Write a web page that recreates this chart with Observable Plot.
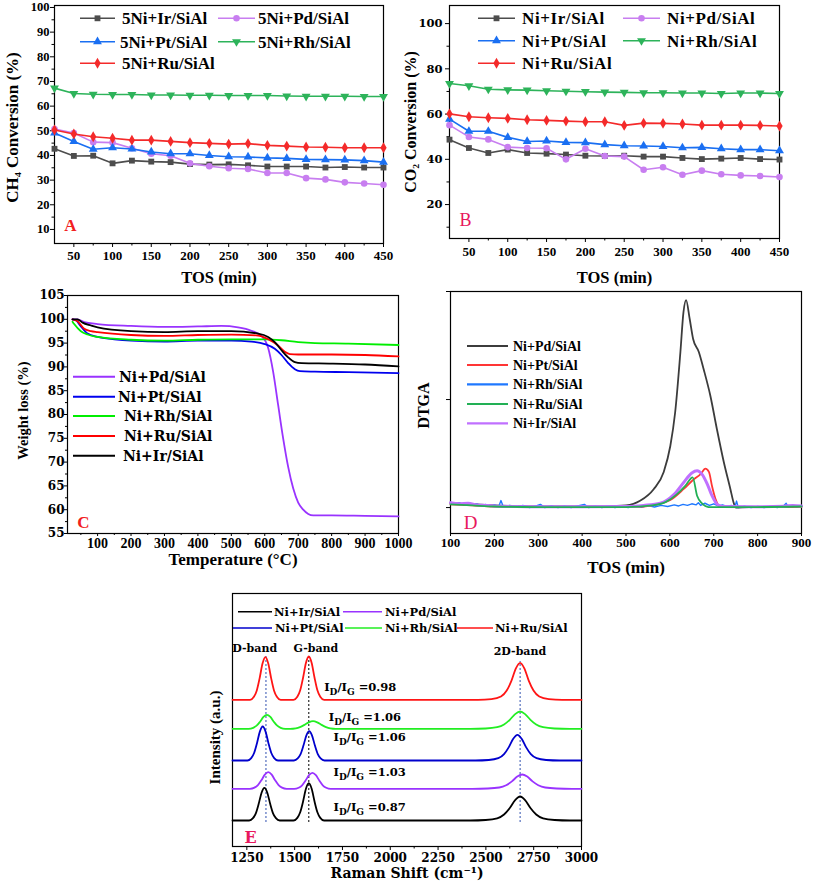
<!DOCTYPE html>
<html>
<head>
<meta charset="utf-8">
<script src="https://cdn.jsdelivr.net/npm/d3@7"></script>
<script src="https://cdn.jsdelivr.net/npm/@observablehq/plot@0.6"></script>
<style>
html,body{margin:0;padding:0;background:#fff;}
#root{position:relative;width:813px;height:883px;overflow:hidden;background:#fff;}
.panel{position:absolute;}
.panel svg{overflow:visible;}
</style>
</head>
<body>
<div id="root"></div>
<script>
// ================= DATA =================
// Panels A & B: time on stream (min)
const TOS = [25,50,75,100,125,150,175,200,225,250,275,300,325,350,375,400,425,450];
// A: CH4 conversion (%)
const ch4Ir = [42.7,39.8,39.9,36.8,37.9,37.5,37.3,36.5,36.3,36.4,36.0,35.5,35.5,35.5,35.1,35.3,35.1,35.1];
const ch4Pd = [50.7,49.1,45.4,45.2,42.9,40.7,39.9,36.8,35.6,34.8,34.5,32.9,32.9,30.8,30.3,29.1,28.6,28.1];
const ch4Pt = [49.1,45.7,42.5,43.1,42.6,41.4,40.7,40.7,40.0,39.5,39.4,39.0,38.8,38.4,38.3,38.2,37.9,37.3];
const ch4Rh = [67.3,65.1,64.8,64.7,64.7,64.5,64.5,64.4,64.4,64.3,64.3,64.3,64.1,64.0,64.0,64.0,63.9,63.9];
const ch4Ru = [50.3,48.7,47.6,47.0,46.2,46.2,45.7,45.2,44.9,44.6,44.8,44.1,43.8,43.4,43.3,43.1,43.1,43.1];
// B: CO2 conversion (%)
const co2Ir = [48.7,45.0,42.8,44.3,42.8,42.5,42.1,41.6,41.5,41.6,41.2,41.2,40.6,40.1,40.3,40.6,40.1,39.9];
const co2Pd = [55.1,49.9,48.8,45.4,45.0,44.9,40.0,44.7,41.5,41.2,35.4,36.5,33.2,35.0,33.4,32.9,32.6,32.2];
const co2Pt = [57.8,52.4,52.4,49.7,47.9,48.1,47.5,47.4,46.5,46.0,45.9,45.7,45.1,45.3,44.7,44.3,44.3,43.8];
const co2Rh = [73.5,72.5,71.0,70.7,70.6,70.3,70.1,69.9,69.7,69.6,69.4,69.4,69.3,69.3,69.1,69.3,69.3,69.1];
const co2Ru = [60.1,58.8,58.4,58.1,57.5,57.2,56.9,56.6,56.6,55.0,56.0,55.9,55.6,55.1,55.1,55.1,55.0,54.7];
const labelsA = ["5Ni+Ir/SiAl","5Ni+Pd/SiAl","5Ni+Pt/SiAl","5Ni+Rh/SiAl","5Ni+Ru/SiAl"];
const labelsB = ["Ni+Ir/SiAl","Ni+Pd/SiAl","Ni+Pt/SiAl","Ni+Rh/SiAl","Ni+Ru/SiAl"];

// C: TGA weight (%) vs temperature (°C)
const tgaPd = [[25,100],[40,100],[60,99.4],[100,99.0],[200,98.6],[300,98.4],[400,98.5],[470,98.6],[520,98.3],[560,97.6],[590,96.5],[610,94.0],[625,89.0],[640,82.0],[655,75.0],[670,69.0],[685,64.5],[700,61.5],[715,60.0],[730,59.1],[745,58.8],[800,58.8],[900,58.7],[1000,58.6]];
const tgaPt = [[25,100],[35,99.8],[50,98.5],[70,97.0],[100,96.3],[150,95.8],[200,95.5],[300,95.3],[400,95.5],[500,95.5],[560,95.3],[600,94.8],[630,93.8],[650,92.5],[670,90.8],[690,89.5],[705,89.1],[750,89.0],[850,88.9],[1000,88.7]];
const tgaRh = [[25,99.5],[30,99.0],[50,97.5],[70,96.8],[100,96.3],[200,95.7],[300,95.5],[400,95.7],[500,95.8],[600,95.8],[650,95.6],[700,95.2],[750,95.0],[850,94.9],[1000,94.6]];
const tgaRu = [[25,100],[40,99.6],[60,98.0],[80,97.5],[100,97.3],[200,96.7],[300,96.5],[400,96.7],[500,96.8],[580,96.6],[610,95.8],[640,94.5],[660,93.2],[675,92.7],[700,92.6],[800,92.6],[900,92.5],[1000,92.2]];
const tgaIr = [[25,100],[40,100],[55,99.3],[80,98.7],[100,98.3],[200,97.5],[300,97.3],[400,97.5],[500,97.5],[580,97.0],[610,96.3],[630,95.2],[650,93.5],[670,92.0],[690,91.0],[710,90.8],[800,90.7],[900,90.5],[1000,90.1]];
const labelsCD = ["Ni+Pd/SiAl","Ni+Pt/SiAl","Ni+Rh/SiAl","Ni+Ru/SiAl","Ni+Ir/SiAl"];

// D: DTGA (arbitrary units)
const dtgPd = [[100,0.04],[130,0.035],[160,0.03],[200,0.02],[250,0.015],[300,0.01],[350,0.01],[400,0.01],[450,0.012],[500,0.02],[533,0.065],[563,0.17],[586,0.33],[601,0.57],[612,0.88],[624,1.44],[631,1.81],[637,1.92],[645,1.75],[653,1.56],[666,1.44],[677,1.28],[692,1.04],[707,0.73],[723,0.42],[738,0.17],[745,0.05],[750,0.0],[780,0.005],[820,0.005],[860,0.01],[900,0.012]];
const dtgPt = [[100,0.03],[150,0.02],[200,0.01],[300,0.006],[400,0.005],[500,0.006],[540,0.01],[570,0.03],[601,0.07],[631,0.17],[654,0.26],[670,0.31],[681,0.36],[689,0.33],[696,0.2],[704,0.08],[711,0.02],[730,0.005],[800,0.005],[900,0.006]];
const dtgRh = [[100,0.05],[110,0.03],[120,0.045],[130,0.025],[140,0.04],[150,0.02],[160,0.035],[170,0.015],[180,0.03],[190,0.01],[200,0.025],[210,0.01],[215,0.065],[220,0.01],[235,0.02],[250,0.005],[265,0.02],[280,0.0],[295,0.015],[305,0.03],[315,0.0],[330,0.015],[345,0.0],[360,0.012],[375,0.0],[390,0.015],[405,0.03],[415,0.0],[430,0.012],[445,0.0],[460,0.015],[475,0.0],[490,0.012],[505,0.0],[520,0.015],[535,0.002],[550,0.018],[565,0.005],[580,0.02],[595,0.01],[610,0.025],[620,0.015],[630,0.03],[640,0.02],[650,0.035],[660,0.025],[665,0.045],[670,0.02],[680,0.04],[690,0.02],[700,0.035],[710,0.015],[720,0.025],[730,0.01],[740,0.02],[748,0.005],[752,0.06],[756,0.0],[770,0.012],[785,0.0],[800,0.01],[815,0.0],[830,0.012],[845,0.0],[860,0.02],[865,0.04],[870,0.005],[880,0.02],[890,0.005],[900,0.02]];
const dtgRu = [[100,0.03],[150,0.02],[200,0.01],[300,0.005],[500,0.005],[560,0.02],[590,0.05],[615,0.12],[635,0.2],[652,0.28],[662,0.11],[673,0.04],[688,0.005],[800,0.005],[900,0.01]];
const dtgIr = [[100,0.045],[120,0.035],[140,0.04],[160,0.025],[180,0.02],[200,0.015],[250,0.01],[300,0.008],[400,0.008],[500,0.01],[540,0.02],[578,0.04],[609,0.12],[631,0.23],[650,0.32],[662,0.34],[673,0.31],[685,0.22],[696,0.11],[708,0.03],[720,0.01],[800,0.008],[860,0.012],[880,0.02],[900,0.015]];

// E: Raman spectra, intensity above each trace's own baseline (a.u.)
const ramIr = [[1175,0],[1262,0],[1282,0.23],[1297,0.72],[1312,1.67],[1327,2.78],[1342,3.27],[1357,2.78],[1372,1.67],[1387,0.72],[1402,0.23],[1422,0],[1494,0],[1514,0.26],[1529,0.82],[1544,1.90],[1559,3.17],[1574,3.73],[1589,3.17],[1604,1.90],[1619,0.82],[1634,0.26],[1654,0],[2419,0],[2499,0.05],[2559,0.22],[2595,0.6],[2625,1.25],[2653,2.04],[2679,2.4],[2705,2.04],[2733,1.25],[2763,0.6],[2799,0.22],[2859,0.05],[2939,0],[3000,0]];
const ramPd = [[1175,0],[1266,0],[1290,0.12],[1308,0.37],[1326,0.85],[1344,1.41],[1362,1.66],[1380,1.41],[1398,0.85],[1416,0.37],[1434,0.12],[1458,0],[1497,0],[1521,0.11],[1539,0.35],[1557,0.82],[1575,1.36],[1593,1.6],[1611,1.36],[1629,0.82],[1647,0.35],[1665,0.11],[1689,0],[2430,0],[2510,0.03],[2570,0.13],[2606,0.36],[2636,0.74],[2664,1.22],[2690,1.43],[2716,1.22],[2744,0.74],[2774,0.36],[2810,0.13],[2870,0.03],[2950,0],[3000,0]];
const ramPt = [[1175,0],[1253,0],[1273,0.24],[1288,0.75],[1303,1.73],[1318,2.89],[1333,3.4],[1348,2.89],[1363,1.73],[1378,0.75],[1393,0.24],[1413,0],[1496,0],[1516,0.21],[1531,0.64],[1546,1.49],[1561,2.49],[1576,2.93],[1591,2.49],[1606,1.49],[1621,0.64],[1636,0.21],[1656,0],[2445,0],[2515,0.05],[2565,0.23],[2595,0.64],[2620,1.34],[2643,2.18],[2665,2.57],[2687,2.18],[2710,1.34],[2735,0.64],[2765,0.23],[2815,0.05],[2885,0],[3000,0]];
const ramRh = [[1175,0],[1259,0],[1283,0.10],[1301,0.31],[1319,0.71],[1337,1.19],[1355,1.4],[1373,1.19],[1391,0.71],[1409,0.31],[1427,0.10],[1451,0],[1476,0],[1506,0.05],[1528,0.17],[1551,0.39],[1574,0.65],[1596,0.76],[1618,0.65],[1641,0.39],[1664,0.17],[1686,0.05],[1716,0],[2419,0],[2499,0.03],[2559,0.16],[2595,0.43],[2625,0.90],[2653,1.47],[2679,1.73],[2705,1.47],[2733,0.90],[2763,0.43],[2799,0.16],[2859,0.03],[2939,0],[3000,0]];
const ramRu = [[1175,0],[1267,0],[1287,0.30],[1302,0.94],[1317,2.17],[1332,3.62],[1347,4.26],[1362,3.62],[1377,2.17],[1392,0.94],[1407,0.30],[1427,0],[1494,0],[1514,0.30],[1529,0.95],[1544,2.21],[1559,3.68],[1574,4.33],[1589,3.68],[1604,2.21],[1619,0.95],[1634,0.30],[1654,0],[2459,0],[2529,0.07],[2579,0.33],[2609,0.93],[2634,1.92],[2657,3.15],[2679,3.7],[2701,3.15],[2724,1.92],[2749,0.93],[2779,0.33],[2829,0.07],[2899,0],[3000,0]];
const ramOffsets = [0, 3.17, 6.0, 9.17, 12.07]; // Ir, Pd, Pt, Rh, Ru stacking
const labelsE = ["Ni+Ir/SiAl","Ni+Pd/SiAl","Ni+Pt/SiAl","Ni+Rh/SiAl","Ni+Ru/SiAl"];
const bandNames = ["D-band","G-band","2D-band"];
const bandPos = [1350, 1574, 2679];
const bandLabelX = [1291, 1611, 2678];
const idigValues = ["0.98","1.06","1.06","1.03","0.87"]; // Ru, Rh, Pt, Pd, Ir
const idigX = [1657, 1681, 1706, 1706, 1706];
const idigY = [13.33, 10.33, 8.33, 4.83, 1.33];

// ================= STYLE =================
const FT = "'Liberation Serif','Times New Roman',serif";
const FD = "'DejaVu Serif',serif";
const colAB = ["#4d4d4d","#c87ef0","#1a6ff2","#2db35a","#f42a2a"];
const colC  = ["#9933ff","#0000ee","#00ee00","#ff0000","#000000"];
const colD  = ["#3c3c3c","#ff3535","#1f78ff","#22b055","#c070ff"];
const colE  = ["#000000","#9933ff","#0000cc","#22ee22","#ff1515"];
const triDown = {draw(ctx, size){const s3=Math.sqrt(3);const y=-Math.sqrt(size/(s3*3));ctx.moveTo(0,-y*2);ctx.lineTo(-s3*y,y);ctx.lineTo(s3*y,y);ctx.closePath();}};
const symAB = [d3.symbolSquare, d3.symbolCircle, d3.symbolTriangle, triDown, d3.symbolDiamond];
const intFmt = d => String(d);

const root = document.getElementById("root");
function place(svg, left, top, w){
  const div = document.createElement("div");
  div.className = "panel"; div.style.left = left+"px"; div.style.top = top+"px"; div.style.width = w+"px";
  div.appendChild(svg); root.appendChild(div);
}
function label(txt, anchor, dx, dy, o={}){
  return Plot.text([txt], Object.assign({text: d=>d, frameAnchor: anchor, dx, dy, textAnchor:"middle", lineAnchor:"middle", fontWeight:"bold", fontFamily: FT, fill:"#000"}, o));
}
function legend(svg, items, o){
  const g = d3.select(svg).append("g").attr("font-family", o.font).attr("font-weight","bold").attr("font-size", o.size).attr("text-anchor","start");
  items.forEach(it=>{
    g.append("line").attr("x1",it.x1).attr("x2",it.x2).attr("y1",it.y).attr("y2",it.y).attr("stroke",it.color).attr("stroke-width",o.sw);
    if (it.sym) g.append("path").attr("d", d3.symbol(it.sym, o.symSize)()).attr("transform",`translate(${(it.x1+it.x2)/2},${it.y})`).attr("fill",it.color);
    g.append("text").attr("x",it.tx).attr("y",it.y).attr("dy","0.35em").attr("fill","#000").attr("text-anchor","start").attr("letter-spacing",o.ls||0).text(it.label);
  });
}
const rowsT = vals => TOS.map((t,i)=>({t, v: vals[i]}));
const rowsP = pairs => pairs.map(([x,v])=>({x, v}));

// ================= PANEL A =================
{
  const vals = [ch4Ir,ch4Pd,ch4Pt,ch4Rh,ch4Ru];
  const svg = Plot.plot({
    width: 395, height: 290, marginLeft: 54, marginRight: 12, marginTop: 5, marginBottom: 47,
    style: {fontFamily: FT, fontSize: "13px", fontWeight: "bold", background: "none", color: "#000"},
    x: {domain: [25, 450]}, y: {domain: [4.3, 100.8]},
    marks: [
      Plot.axisX({ticks: d3.range(50, 451, 50), tickSize: 4, tickPadding: 3, label: null}),
      Plot.axisX({ticks: d3.range(75, 451, 50), tickSize: 2.5, tickFormat: () => "", label: null}),
      Plot.axisY({ticks: d3.range(10, 101, 10), tickSize: 4, tickPadding: 1, label: null, fontSize: 12.5}),
      Plot.axisY({ticks: d3.range(15, 100, 10), tickSize: 2.5, tickFormat: () => "", label: null}),
      Plot.frame({stroke: "#000", strokeWidth: 1.2}),
      ...vals.flatMap((v,i)=>[
        Plot.line(rowsT(v), {x:"t", y:"v", stroke: colAB[i], strokeWidth: 1.6}),
        Plot.dot(rowsT(v), {x:"t", y:"v", fill: colAB[i], symbol: symAB[i], r: 3.3})
      ]),
      label("TOS (min)", "bottom", 0, 34, {fontSize: 16.5}),
      label("CH₄ Conversion (%)", "left", -42, 3, {rotate: -90, fontSize: 17}),
      label("A", "bottom-left", 16, -18, {fill: "#f22020", fontSize: 17})
    ]
  });
  legend(svg, [
    {x1:80,x2:115,y:18.3,tx:122,label:labelsA[0],color:colAB[0],sym:symAB[0]},
    {x1:218,x2:255,y:18.3,tx:258,label:labelsA[1],color:colAB[1],sym:symAB[1]},
    {x1:80,x2:115,y:41.7,tx:120,label:labelsA[2],color:colAB[2],sym:symAB[2]},
    {x1:218,x2:255,y:41.7,tx:258,label:labelsA[3],color:colAB[3],sym:symAB[3]},
    {x1:80,x2:115,y:63.3,tx:122,label:labelsA[4],color:colAB[4],sym:symAB[4]}
  ], {font: FT, size: 17, sw: 1.6, symSize: 34});
  place(svg, 0, 0, 395);
}

// ================= PANEL B =================
{
  const vals = [co2Ir,co2Pd,co2Pt,co2Rh,co2Ru];
  const svg = Plot.plot({
    width: 400, height: 290, marginLeft: 54, marginRight: 16, marginTop: 5, marginBottom: 52,
    style: {fontFamily: FT, fontSize: "13px", fontWeight: "bold", background: "none", color: "#000"},
    x: {domain: [25, 450]}, y: {domain: [5, 108]},
    marks: [
      Plot.axisX({ticks: d3.range(50, 451, 50), tickSize: 4, tickPadding: 4.5, label: null}),
      Plot.axisX({ticks: d3.range(75, 451, 50), tickSize: 2.5, tickFormat: () => "", label: null}),
      Plot.axisY({ticks: d3.range(20, 101, 20), tickSize: 4, tickPadding: 3, label: null, fontFamily: FD, fontSize: 11.5}),
      Plot.axisY({ticks: d3.range(10, 101, 20), tickSize: 2.5, tickFormat: () => "", label: null}),
      Plot.frame({stroke: "#000", strokeWidth: 1.2}),
      ...vals.flatMap((v,i)=>[
        Plot.line(rowsT(v), {x:"t", y:"v", stroke: colAB[i], strokeWidth: 1.6}),
        Plot.dot(rowsT(v), {x:"t", y:"v", fill: colAB[i], symbol: symAB[i], r: 3.3})
      ]),
      label("TOS (min)", "bottom", 0, 39, {fontSize: 16.5}),
      label("CO₂ Conversion (%)", "left", -39, 0, {rotate: -90, fontSize: 16}),
      label("B", "bottom-left", 16, -18, {fill: "#e8175d", fontSize: 18, fontWeight: "normal"})
    ]
  });
  legend(svg, [
    {x1:83,x2:120,y:18.3,tx:127,label:labelsB[0],color:colAB[0],sym:symAB[0]},
    {x1:228,x2:265,y:18.3,tx:272,label:labelsB[1],color:colAB[1],sym:symAB[1]},
    {x1:83,x2:120,y:40.7,tx:127,label:labelsB[2],color:colAB[2],sym:symAB[2]},
    {x1:228,x2:265,y:40.7,tx:272,label:labelsB[3],color:colAB[3],sym:symAB[3]},
    {x1:83,x2:120,y:63.3,tx:127,label:labelsB[4],color:colAB[4],sym:symAB[4]}
  ], {font: FT, size: 17, sw: 1.6, symSize: 34, ls: 0.6});
  place(svg, 395, 0, 400);
}

// ================= PANEL C =================
{
  const vals = [tgaPd,tgaPt,tgaRh,tgaRu,tgaIr];
  const svg = Plot.plot({
    width: 410, height: 300, marginLeft: 67, marginRight: 12, marginTop: 10, marginBottom: 52,
    style: {fontFamily: FT, fontSize: "14px", fontWeight: "bold", background: "none", color: "#000"},
    x: {domain: [10, 1000]}, y: {domain: [55, 105]},
    marks: [
      Plot.axisX({ticks: d3.range(100, 1001, 100), tickSize: 3, tickPadding: 2, tickFormat: intFmt, label: null}),
      Plot.axisX({ticks: d3.range(50, 1000, 100), tickSize: 2, tickFormat: () => "", label: null}),
      Plot.axisY({ticks: d3.range(55, 106, 5), tickSize: 3, tickPadding: 0, label: null, fontFamily: FD, fontSize: 12}),
      Plot.axisY({ticks: d3.range(57.5, 105, 5), tickSize: 2, tickFormat: () => "", label: null}),
      Plot.frame({stroke: "#000", strokeWidth: 1.2}),
      ...vals.map((v,i)=> Plot.line(rowsP(v), {x:"x", y:"v", stroke: colC[i], strokeWidth: 1.8, curve: "monotone-x"})),
      label("Temperature (°C)", "bottom", 0, 26, {fontSize: 17}),
      label("Weight loss (%)", "left", -44, -4, {rotate: -90, fontSize: 14.5}),
      label("C", "bottom-left", 16, -11, {fill: "#f22020", fontSize: 17})
    ]
  });
  const ys = [91.7,111.7,131,151,170.7], tx = [119,118,124,124,123];
  legend(svg, labelsCD.map((l,i)=>({x1:73,x2:115,y:ys[i],tx:tx[i],label:l,color:colC[i]})), {font: FD, size: 14, sw: 2});
  place(svg, 0, 285, 410);
}

// ================= PANEL D =================
{
  const vals = [dtgPd,dtgPt,dtgRh,dtgRu,dtgIr];
  const order = [0,2,1,4,3];
  const svg = Plot.plot({
    width: 408, height: 300, marginLeft: 45, marginRight: 12, marginTop: 6, marginBottom: 52,
    style: {fontFamily: FT, fontSize: "13px", fontWeight: "bold", background: "none", color: "#000"},
    x: {domain: [100, 900]}, y: {domain: [-0.24, 2]},
    marks: [
      Plot.axisX({ticks: d3.range(100, 901, 100), tickSize: 3, tickPadding: 1.5, label: null}),
      Plot.axisY({ticks: [0, 1, 2], tickSize: 4, tickFormat: () => "", label: null}),
      Plot.frame({stroke: "#000", strokeWidth: 1.2}),
      ...order.map(i=> Plot.line(rowsP(vals[i]), {x:"x", y:"v", stroke: colD[i], strokeWidth: i===4 ? 3 : (i===2 ? 1.4 : 1.8), curve: i===2 ? "linear" : "monotone-x"})),
      label("TOS (min)", "bottom", 0, 34, {fontSize: 17}),
      label("DTGA", "left", -27, -7, {rotate: -90, fontSize: 16}),
      label("D", "bottom-left", 20, -11, {fill: "#e8175d", fontSize: 19, fontWeight: "normal"})
    ]
  });
  const ys = [61,80,99.3,119,138.3];
  legend(svg, labelsCD.map((l,i)=>({x1:62,x2:103,y:ys[i],tx:108,label:l,color:colD[i]})), {font: FT, size: 14, sw: 2.2});
  place(svg, 405, 285, 408);
}

// ================= PANEL E =================
{
  const vals = [ramIr,ramPd,ramPt,ramRh,ramRu];
  const bandTop = [16.5, 16.5, 15.9];
  const svg = Plot.plot({
    width: 410, height: 303, marginLeft: 42, marginRight: 19, marginTop: 13, marginBottom: 37,
    style: {fontFamily: FD, fontSize: "12px", fontWeight: "bold", background: "none", color: "#000"},
    x: {domain: [1175, 3000]}, y: {domain: [-2.6, 22.7], axis: null},
    marks: [
      Plot.axisX({ticks: d3.range(1250, 3001, 250), tickSize: 4, tickPadding: 3, tickFormat: intFmt, label: null}),
      Plot.axisX({ticks: d3.range(1375, 3000, 250), tickSize: 2.5, tickFormat: () => "", label: null}),
      Plot.frame({stroke: "#000", strokeWidth: 1.2}),
      Plot.ruleX(bandPos.map((x,i)=>({x, y1: -0.2, y2: bandTop[i]})), {x:"x", y1:"y1", y2:"y2", stroke: (d,i)=> i===1 ? "#000" : "#3050b0", strokeDasharray: "2,2", strokeWidth: 1}),
      ...vals.map((v,i)=> Plot.line(v.map(([x,y])=>({x, y: y + ramOffsets[i]})), {x:"x", y:"y", stroke: colE[i], strokeWidth: 1.8, curve: "monotone-x"})),
      Plot.text(bandNames.map((n,i)=>({n, x: bandLabelX[i], y: i===2 ? 16.9 : 17.2})), {x:"x", y:"y", text:"n", fontFamily: FD, fontSize: 11, fontWeight: "bold", fill: "#000"}),
      label("Raman Shift (cm⁻¹)", "bottom", 0, 27, {fontFamily: FD, fontSize: 14}),
      label("Intensity (a.u.)", "left", -17, 17.5, {rotate: -90, fontSize: 15}),
      label("E", "bottom-left", 18, -9, {fill: "#e8175d", fontSize: 16, fontFamily: FD})
    ]
  });
  const sx = svg.scale("x"), sy = svg.scale("y");
  const X = d3.scaleLinear(sx.domain, sx.range), Y = d3.scaleLinear(sy.domain, sy.range);
  const g = d3.select(svg).append("g").attr("font-family", FD).attr("font-weight", "bold").attr("font-size", 11.5).attr("fill", "#000").attr("text-anchor", "start");
  idigValues.forEach((val,i)=>{
    const t = g.append("text").attr("x", X(idigX[i])).attr("y", Y(idigY[i]) + 4).attr("text-anchor", "start");
    t.append("tspan").text("I");
    t.append("tspan").attr("dy", 4).attr("font-size", 9).text("D");
    t.append("tspan").attr("dy", -4).text("/I");
    t.append("tspan").attr("dy", 4).attr("font-size", 9).text("G");
    t.append("tspan").attr("dy", -4).text(" =" + val);
  });
  legend(svg, [
    {x1:48,x2:82,y:31.7,tx:84,label:labelsE[0],color:colE[0]},
    {x1:153,x2:192,y:31.7,tx:195,label:labelsE[1],color:colE[1]},
    {x1:43,x2:82,y:48,tx:85,label:labelsE[2],color:colE[2]},
    {x1:155,x2:192,y:48,tx:195,label:labelsE[3],color:colE[3]},
    {x1:267,x2:303,y:48,tx:305,label:labelsE[4],color:colE[4]}
  ], {font: FD, size: 11.5, sw: 1.6});
  place(svg, 190, 580, 410);
}
</script>
</body>
</html>
